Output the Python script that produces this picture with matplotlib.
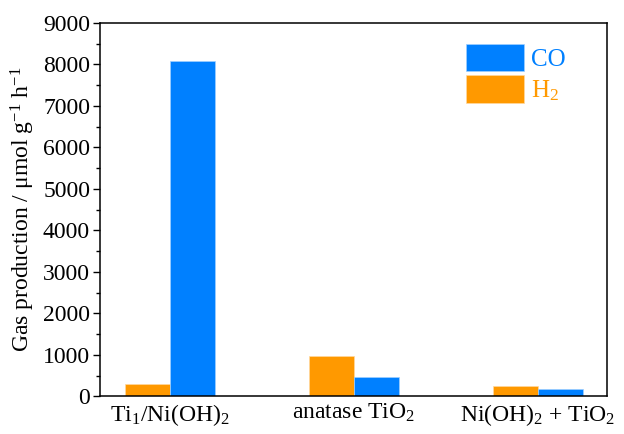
import numpy as np
import matplotlib
matplotlib.use("Agg")
import matplotlib.pyplot as plt
from matplotlib.ticker import MultipleLocator

plt.rcParams['font.family'] = 'Liberation Serif'
plt.rcParams['mathtext.fontset'] = 'custom'
plt.rcParams['mathtext.rm'] = 'Liberation Serif'
plt.rcParams['mathtext.it'] = 'Liberation Serif:italic'
plt.rcParams['mathtext.default'] = 'regular'

samples = ["Ti$_1$/Ni(OH)$_2$", "anatase TiO$_2$", "Ni(OH)$_2$ + TiO$_2$"]
h2 = [290, 965, 235]
co = [8080, 475, 170]

blue = "#0080FF"
orange = "#FF9900"

fig, ax = plt.subplots(figsize=(6.24, 4.34), dpi=100)
fig.subplots_adjust(left=0.16, right=0.973, top=0.947, bottom=0.087)

x = np.arange(len(samples))
w = 0.245
ax.bar(x - w / 2, h2, w, color=orange, edgecolor="#FFD9A0", linewidth=0.5, label="H$_2$")
ax.bar(x + w / 2, co, w, color=blue, edgecolor="#A0D0FF", linewidth=0.5, label="CO")

ax.set_xlim(-0.38, 2.375)
ax.set_ylim(0, 9000)
ax.set_xticks(x)
ax.set_xticklabels(samples, fontsize=17)
ax.tick_params(axis='x', length=0, pad=4)
ax.yaxis.set_major_locator(MultipleLocator(1000))
ax.yaxis.set_minor_locator(MultipleLocator(500))
ax.tick_params(axis='y', which='major', length=5, width=1, labelsize=17, pad=2)
ax.tick_params(axis='y', which='minor', length=3, width=1)
ax.set_ylabel("Gas production / μmol g$^{-1}$ h$^{-1}$", fontsize=17, labelpad=4)
for s in ax.spines.values():
    s.set_linewidth(1.1)

handles, labels = ax.get_legend_handles_labels()
leg = ax.legend(handles[::-1], labels[::-1], loc="upper left",
                bbox_to_anchor=(0.722, 0.945), frameon=False, fontsize=18,
                handlelength=2.3, handleheight=1.3, handletextpad=0.3,
                labelspacing=0.18, borderpad=0, borderaxespad=0)
for t, c in zip(leg.get_texts(), [blue, orange]):
    t.set_color(c)

fig.savefig("out.png", dpi=100)
